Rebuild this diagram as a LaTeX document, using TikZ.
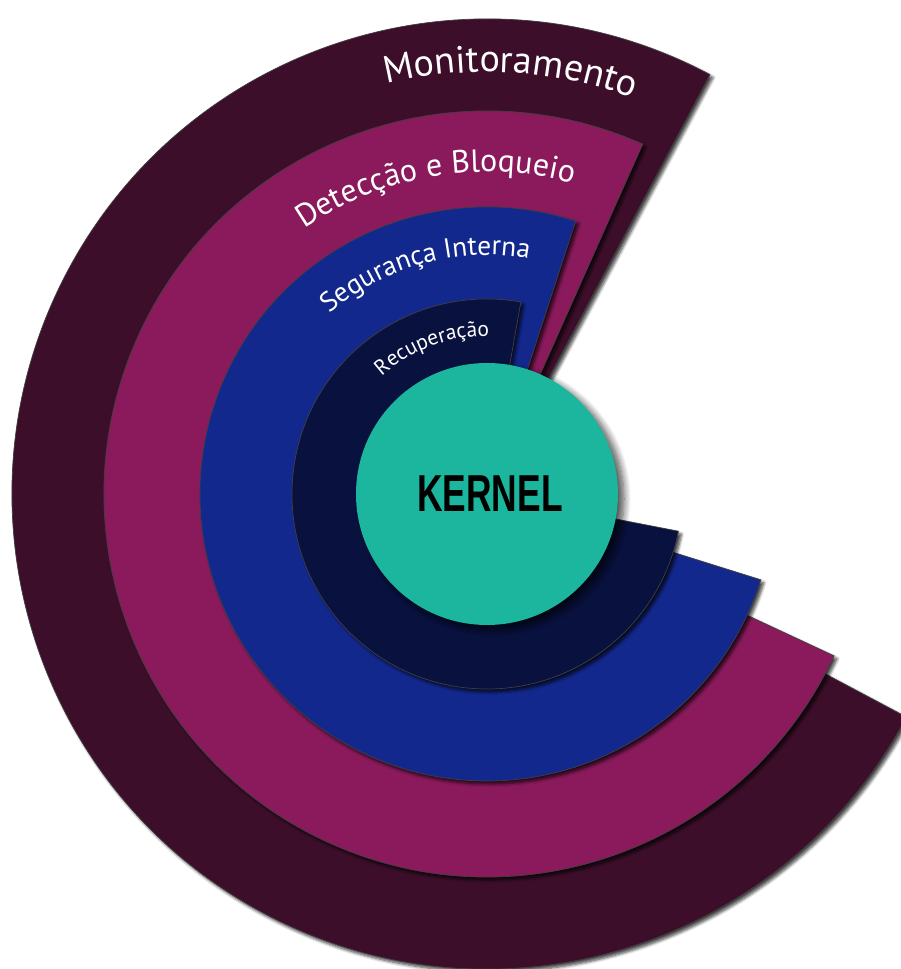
\documentclass[tikz,border=0pt]{standalone}
\usepackage{fontspec}
\usepackage{graphicx}
\usetikzlibrary{decorations.text,shadows.blur}
\newfontfamily\labelfont{PT Sans}
\newfontfamily\kernelfont{Liberation Sans}
\definecolor{maroonC}{RGB}{60,14,42}
\definecolor{magentaC}{RGB}{138,26,92}
\definecolor{blueC}{RGB}{19,40,140}
\definecolor{navyC}{RGB}{9,17,62}
\definecolor{tealC}{RGB}{27,182,157}
\tikzset{
  ring/.style={draw=black!75, line width=0.7pt,
    blur shadow={shadow xshift=3pt, shadow yshift=-3pt, shadow blur steps=6, shadow opacity=75, shadow blur radius=3pt}},
  ringlabel/.style={decorate, decoration={text along path, text align=center, text color=white, text={#1}}}
}
\begin{document}
\begin{tikzpicture}[x=1pt,y=1pt]
\useasboundingbox (0,0) rectangle (901,969);
\clip (0,0) rectangle (901,969);
\coordinate (C) at (487,475);
% sectors, largest first
\path[ring, fill=maroonC] (C) -- ++(62:475) arc[start angle=62, end angle=332, radius=475] -- cycle;
\path[ring, fill=magentaC] (C) -- ++(66:383) arc[start angle=66, end angle=335, radius=383] -- cycle;
\path[ring, fill=blueC] (C) -- ++(72:287) arc[start angle=72, end angle=342.6, radius=287] -- cycle;
\path[ring, fill=navyC] (C) -- ++(80:195) arc[start angle=80, end angle=349, radius=195] -- cycle;
% kernel
\node[circle, minimum size=262pt, inner sep=0pt, fill=tealC,
  blur shadow={shadow xshift=6pt, shadow yshift=-5pt, shadow blur steps=10, shadow opacity=70, shadow blur radius=7pt}] (kernel) at (C) {};
\node (kernellabel) at ([xshift=3pt]C) {\scalebox{0.68}[1]{\kernelfont\bfseries\fontsize{52}{52}\selectfont KERNEL}};
% labels
\path[ringlabel={|\labelfont\fontsize{38}{38}\selectfont|Monitoramento}]
  (C) ++(146.8:422) arc[start angle=146.8, end angle=26.8, radius=422];
\path[ringlabel={|\labelfont\fontsize{32}{32}\selectfont|Detecção e Bloqueio}]
  (C) ++(159.6:322) arc[start angle=159.6, end angle=39.6, radius=322];
\path[ringlabel={|\labelfont\fontsize{27.5}{27.5}\selectfont|Segurança Interna}]
  (C) ++(165.5:239) arc[start angle=165.5, end angle=45.5, radius=239];
\path[ringlabel={|\labelfont\fontsize{21.5}{21.5}\selectfont|Recuperação}]
  (C) ++(170.5:158) arc[start angle=170.5, end angle=50.5, radius=158];
\end{tikzpicture}
\end{document}
